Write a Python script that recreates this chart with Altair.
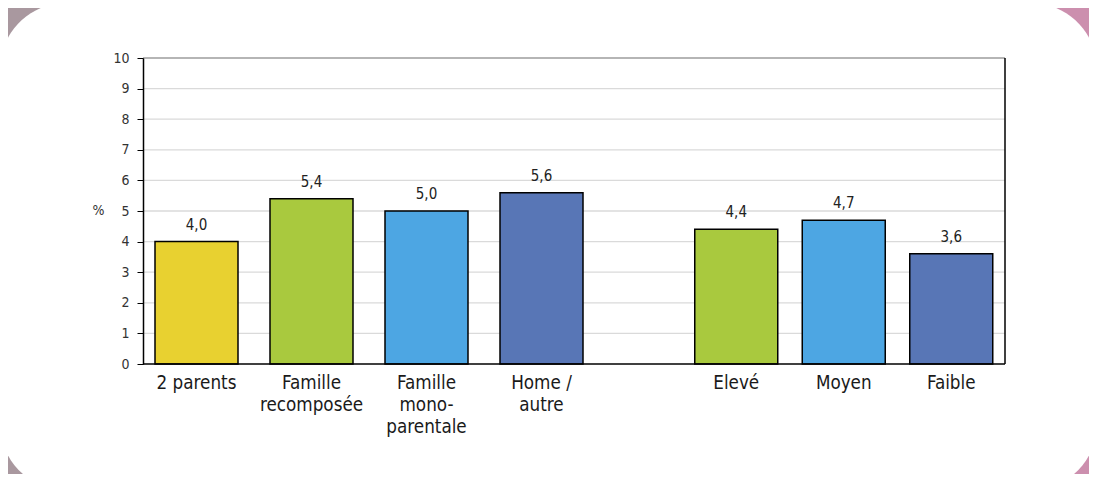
import altair as alt
import pandas as pd

# ---- data ----
cats1 = ["2 parents", "Famille|recomposée", "Famille|mono-|parentale", "Home /|autre"]
vals1 = [4.0, 5.4, 5.0, 5.6]
cols1 = ["#e8d130", "#a9c93e", "#4da6e3", "#5876b6"]

cats2 = ["Elevé", "Moyen", "Faible"]
vals2 = [4.4, 4.7, 3.6]
cols2 = ["#a9c93e", "#4da6e3", "#5876b6"]

y_ticks = list(range(0, 11))

# ---- layout ----
W, H = 862, 306
PL, PT, PR, PB = 135, 50, 84, 110
FONT = "Liberation Sans Narrow, DejaVu Sans Condensed, Open Sans, sans-serif"

one = pd.DataFrame({"k": [0]})

bg = alt.Chart(one).mark_rect(
    fill=alt.LinearGradient(
        gradient="linear",
        stops=[
            alt.GradientStop(color="#a9989f", offset=0),
            alt.GradientStop(color="#a9989f", offset=0.06),
            alt.GradientStop(color="#cc8fae", offset=0.14),
            alt.GradientStop(color="#cc8fae", offset=1),
        ],
        x1=0, x2=1, y1=0, y2=0,
    )
).encode(x=alt.value(-PL), x2=alt.value(W + PR), y=alt.value(-PT), y2=alt.value(H + PB))

white = alt.Chart(one).mark_rect(fill="white", cornerRadius=66).encode(
    x=alt.value(-143), x2=alt.value(954), y=alt.value(-55), y2=alt.value(432)
)

yscale = alt.Scale(domain=[0, 10], nice=False, zero=True)
yaxis = alt.Axis(
    values=y_ticks,
    grid=False,
    tickSize=6,
    tickColor="black",
    tickWidth=1,
    domainColor="black",
    domainWidth=1.5,
    labelFontSize=14,
    labelColor="#333333",
    labelPadding=8,
    title="%",
    titleAngle=0,
    titleX=-45,
    titleY=152,
    titleAlign="center",
    titleBaseline="middle",
    titleFontSize=14,
    titleFontWeight="normal",
    titleColor="#333333",
    zindex=1,
)

grid_df = pd.DataFrame({"v": y_ticks[1:]})
grid = alt.Chart(grid_df).mark_rule().encode(
    y=alt.Y("v:Q", scale=yscale, axis=yaxis),
    color=alt.condition("datum.v == 10", alt.value("#b5b5b5"), alt.value("#dadada")),
    strokeWidth=alt.condition("datum.v == 10", alt.value(2), alt.value(1.3)),
)


def group(cats, vals, cols, rng):
    df = pd.DataFrame({"cat": cats, "v": vals, "col": cols})
    x = alt.X(
        "cat:N",
        sort=cats,
        scale=alt.Scale(domain=cats, range=rng, paddingInner=0, paddingOuter=0),
        axis=alt.Axis(
            title=None,
            orient="bottom",
            domain=False,
            ticks=False,
            labelAngle=0,
            labelExpr="split(datum.label, '|')",
            labelFontSize=18.7,
            labelLineHeight=22,
            labelPadding=9,
            labelBaseline="top",
            labelColor="#1a1a1a",
            zindex=1,
        ),
    )
    y = alt.Y("v:Q", scale=yscale, axis=yaxis)
    base = alt.Chart(df)
    bars = base.mark_bar(size=83, stroke="black", strokeWidth=1.5).encode(
        x=x, y=y, color=alt.Color("col:N", scale=None)
    )
    txt = base.transform_calculate(
        lab="replace(format(datum.v, '.1f'), '.', ',')"
    ).mark_text(dy=-12, baseline="alphabetic", fontSize=15, color="#222222").encode(
        x=x, y=y, text="lab:N"
    )
    return alt.layer(bars, txt)


g1 = group(cats1, vals1, cols1, [-4, 456])
g2 = group(cats2, vals2, cols2, [539.5, 862])

bottom = alt.Chart(one).mark_rule(color="black", strokeWidth=1.5).encode(
    x=alt.value(0), x2=alt.value(W), y=alt.value(H)
)
right = alt.Chart(one).mark_rule(color="black", strokeWidth=1.5).encode(
    x=alt.value(W), y=alt.value(0), y2=alt.value(H)
)

chart = (
    alt.layer(bg, white, grid, g1, g2, bottom, right)
    .resolve_scale(x="independent")
    .properties(
        width=W,
        height=H,
        padding={"left": PL, "top": PT, "right": PR, "bottom": PB},
        autosize=alt.AutoSizeParams(type="none"),
    )
    .configure(font=FONT)
    .configure_view(stroke=None)
)

chart.save("out.html", embed_options={"renderer": "svg", "actions": False})
